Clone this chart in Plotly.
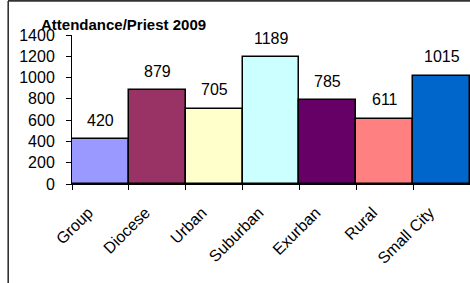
import plotly.graph_objects as go

categories = ["Group", "Diocese", "Urban", "Suburban", "Exurban", "Rural", "Small City"]
values = [420, 879, 705, 1189, 785, 611, 1015]
colors = ["#9999FF", "#993366", "#FFFFCC", "#CCFFFF", "#660066", "#FF8080", "#0066CC"]
y_ticks = [0, 200, 400, 600, 800, 1000, 1200, 1400]

FONT = "Liberation Sans, Arial, sans-serif"

# plot area geometry in pixels
W, H = 470, 283
L, R, T, B = 72, 0, 35, 99
pw, ph = W - L - R, H - T - B

def px_x(x):
    return (x - L) / pw

def px_y(y):
    return (H - B - y) / ph

fig = go.Figure()
fig.add_trace(go.Bar(
    x=categories, y=values,
    marker=dict(color=colors, line=dict(color="black", width=1.5)),
    showlegend=False, hoverinfo="x+y",
))

for c, v in zip(categories, values):
    fig.add_annotation(x=c, y=v, text=str(v), showarrow=False, yshift=19,
                       font=dict(family=FONT, size=16, color="black"))

# outer chart border (top and left edges)
fig.add_shape(type="line", xref="paper", yref="paper", x0=px_x(8), x1=px_x(475),
              y0=px_y(0.9), y1=px_y(0.9), line=dict(color="#333", width=1.6))
fig.add_shape(type="line", xref="paper", yref="paper", x0=px_x(8.2), x1=px_x(8.2),
              y0=px_y(0.9), y1=px_y(290), line=dict(color="#333", width=1.6))

fig.update_layout(
    width=W, height=H,
    margin=dict(l=L, r=R, t=T, b=B, autoexpand=False),
    paper_bgcolor="white", plot_bgcolor="white",
    bargap=0,
    font=dict(family=FONT, size=16, color="black"),
    title=dict(text="<b>Attendance/Priest 2009</b>", x=41/W, xanchor="left",
               y=1-25/H, yanchor="middle", font=dict(family=FONT, size=15, color="black")),
    xaxis=dict(type="category", tickangle=-45, tickson="boundaries", ticks="outside",
               ticklen=5, tickcolor="black", showline=True, linecolor="black", linewidth=1,
               showgrid=False, tickfont=dict(family=FONT, size=16), range=[-0.5, 6.5],
               automargin=False, ticklabelstandoff=12, ticklabelshift=-12),
    yaxis=dict(range=[0, 1400], tickvals=y_ticks, ticks="outside", ticklen=5, tickcolor="black",
               showline=True, linecolor="black", linewidth=1, showgrid=False, zeroline=False,
               tickfont=dict(family=FONT, size=16), automargin=False, ticklabelstandoff=8),
)

fig.write_html("out.html", config={"displayModeBar": False},
               post_script="document.body.style.margin='0';document.body.style.overflow='hidden';")
